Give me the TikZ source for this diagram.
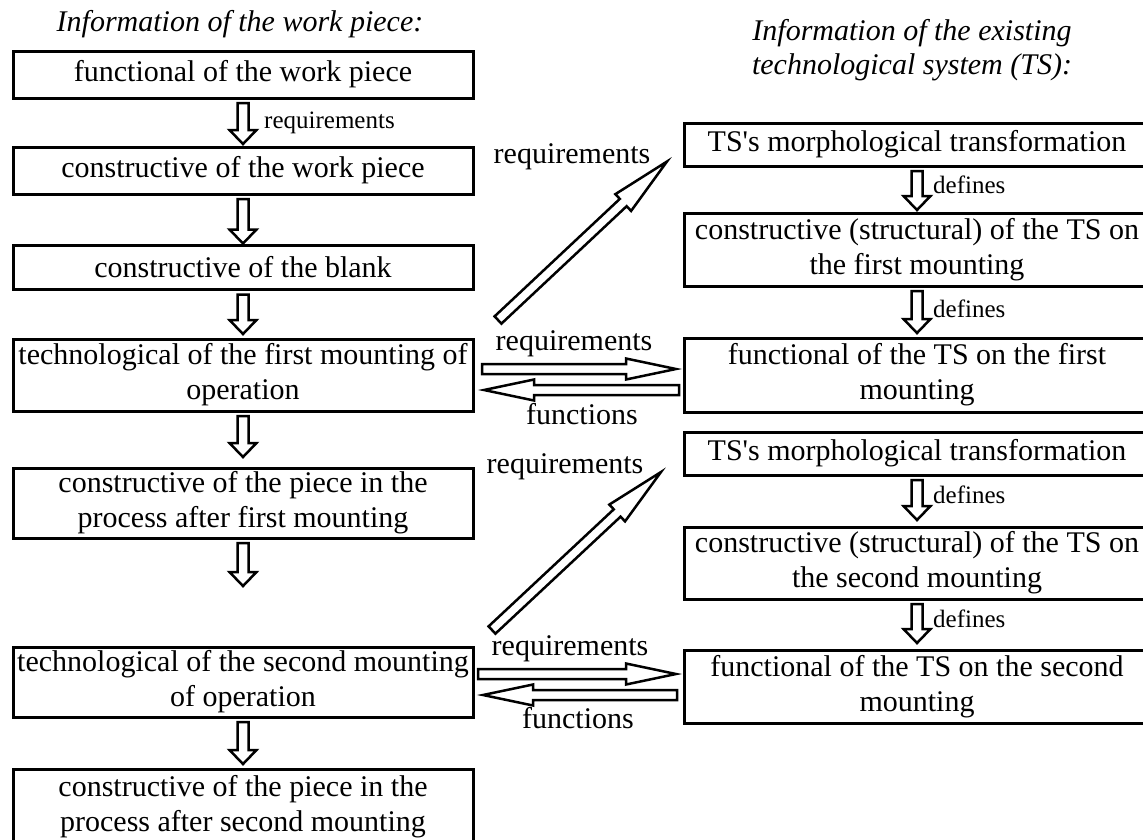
\documentclass[tikz,border=0pt]{standalone}
\usepackage{fontspec}
\setmainfont{Liberation Serif}
\usetikzlibrary{calc}
\tikzset{box/.style={draw, line width=3pt, minimum width=460pt, inner sep=0pt, outer sep=0pt,
    align=center, font=\fontsize{30}{35}\selectfont},
  lbl/.style={inner sep=0pt, align=center, font=\fontsize{30}{35}\selectfont},
  ttl/.style={inner sep=0pt, align=center, font=\fontsize{30}{34}\selectfont\itshape},
  note/.style={inner sep=0pt, font=\fontsize{25}{29}\selectfont},
  hollow/.style={draw, fill=white, line width=2.5pt, line join=miter}}

% shaft half width, head half width, head length, tail, tip
\newcommand{\hollowarrow}[5]{%
  \coordinate (tl) at (#4); \coordinate (tp) at (#5);
  \coordinate (hb) at ($(tp)!#3!(tl)$);
  \draw[hollow] ($(tl)!#1!90:(tp)$) -- ($(hb)!#1!90:(tp)$) -- ($(hb)!#2!90:(tp)$) -- (tp)
    -- ($(hb)!#2!-90:(tp)$) -- ($(hb)!#1!-90:(tp)$) -- ($(tl)!#1!-90:(tp)$) -- cycle;}
\newcommand{\steparrow}[2]{\hollowarrow{5.5pt}{13.5pt}{14pt}{#1}{#2}}
\newcommand{\linkarrow}[4][50pt]{\hollowarrow{5pt}{#2}{#1}{#3}{#4}}

\begin{document}
\begin{tikzpicture}[x=1pt, y=-1pt]
  \path[use as bounding box, clip] (0,0) rectangle (1143,839);
  % titles
  \node[ttl, anchor=base] (tw) at (240,31) {Information of the work piece:};
  \node[ttl] (tts) at (912,50) {Information of the existing\\technological system (TS):};
  % work piece
  \node[box, minimum height=47pt] (b1) at (243,74.5) {functional of the work piece};
  \node[box, minimum height=47pt] (b2) at (243,170.5) {constructive of the work piece};
  \node[box, minimum height=44pt] (b3) at (243,267.5) {constructive of the blank};
  \node[box, minimum height=72pt] (b4) at (243,375) {technological of the first mounting of\\operation};
  \node[box, minimum height=70pt] (b5) at (243,503) {constructive of the piece in the\\process after first mounting};
  \node[box, minimum height=70pt] (b6) at (243,682) {technological of the second mounting\\of operation};
  \node[box, minimum height=76pt] (b7) at (243,807) {constructive of the piece in the\\process after second mounting};
  % technological system
  \node[box, minimum width=466pt, minimum height=43pt] (r1) at (917,144.5) {TS\textquotesingle s morphological transformation};
  \node[box, minimum width=466pt, minimum height=73pt] (r2) at (917,249.5) {constructive (structural) of the TS on\\the first mounting};
  \node[box, minimum width=466pt, minimum height=74pt] (r3) at (917,375) {functional of the TS on the first\\mounting};
  \node[box, minimum width=466pt, minimum height=43pt] (r4) at (917,453.5) {TS\textquotesingle s morphological transformation};
  \node[box, minimum width=466pt, minimum height=72pt] (r5) at (917,563) {constructive (structural) of the TS on\\the second mounting};
  \node[box, minimum width=466pt, minimum height=73pt] (r6) at (917,686.5) {functional of the TS on the second\\mounting};
  % arrows down the columns
  \foreach \a/\b/\g in {b1/b2/3, b2/b3/2, b3/b4/5, b4/b5/11, b6/b7/5, r1/r2/3, r2/r3/5, r4/r5/7, r5/r6/7}{
    \steparrow{$(\a.south)+(0,5)$}{$(\b.north)+(0,-\g)$}}
  \coordinate (gap) at ($(b5.south)+(0,48)$);
  \steparrow{$(b5.south)+(0,5)$}{gap}
  \node[note, anchor=base west] (rqn) at (264,128) {requirements};
  \foreach \y [count=\i] in {193,317,503,627}
    \node[note, anchor=base west] (df\i) at (933,\y) {defines};
  % links between the columns
  \coordinate (rq1a) at ($(b4.north east)+(25,-19)$);
  \coordinate (rq1b) at ($(r1.west)+(-17,17)$);
  \linkarrow[60pt]{11.5pt}{rq1a}{rq1b}
  \coordinate (rq2a) at ($(b4.east)+(9,-6)$);
  \coordinate (rq2b) at ($(r3.west |- rq2a)+(-8,0)$);
  \linkarrow{10.5pt}{rq2a}{rq2b}
  \coordinate (fn1a) at ($(r3.west)+(-5,15)$);
  \coordinate (fn1b) at ($(b4.east |- fn1a)+(11,0)$);
  \linkarrow{10.5pt}{fn1a}{fn1b}
  \coordinate (rq3a) at ($(b6.north east)+(19,-17)$);
  \coordinate (rq3b) at ($(r4.west)+(-23,18.5)$);
  \linkarrow[60pt]{11.5pt}{rq3a}{rq3b}
  \coordinate (rq4a) at ($(b6.east)+(5,-8)$);
  \coordinate (rq4b) at ($(r6.west |- rq4a)+(-8,0)$);
  \linkarrow{10.5pt}{rq4a}{rq4b}
  \coordinate (fn2a) at ($(r6.west)+(-7,8.5)$);
  \coordinate (fn2b) at ($(b6.east |- fn2a)+(10,0)$);
  \linkarrow{10.5pt}{fn2a}{fn2b}
  \node[lbl, anchor=base] (rl1) at (572,163) {requirements};
  \node[lbl, anchor=base] (rl2) at (574,350) {requirements};
  \node[lbl, anchor=base] (fl1) at (582,424) {functions};
  \node[lbl, anchor=base] (rl3) at (565,473) {requirements};
  \node[lbl, anchor=base] (rl4) at (570,655) {requirements};
  \node[lbl, anchor=base] (fl2) at (578,728) {functions};
\end{tikzpicture}
\end{document}
